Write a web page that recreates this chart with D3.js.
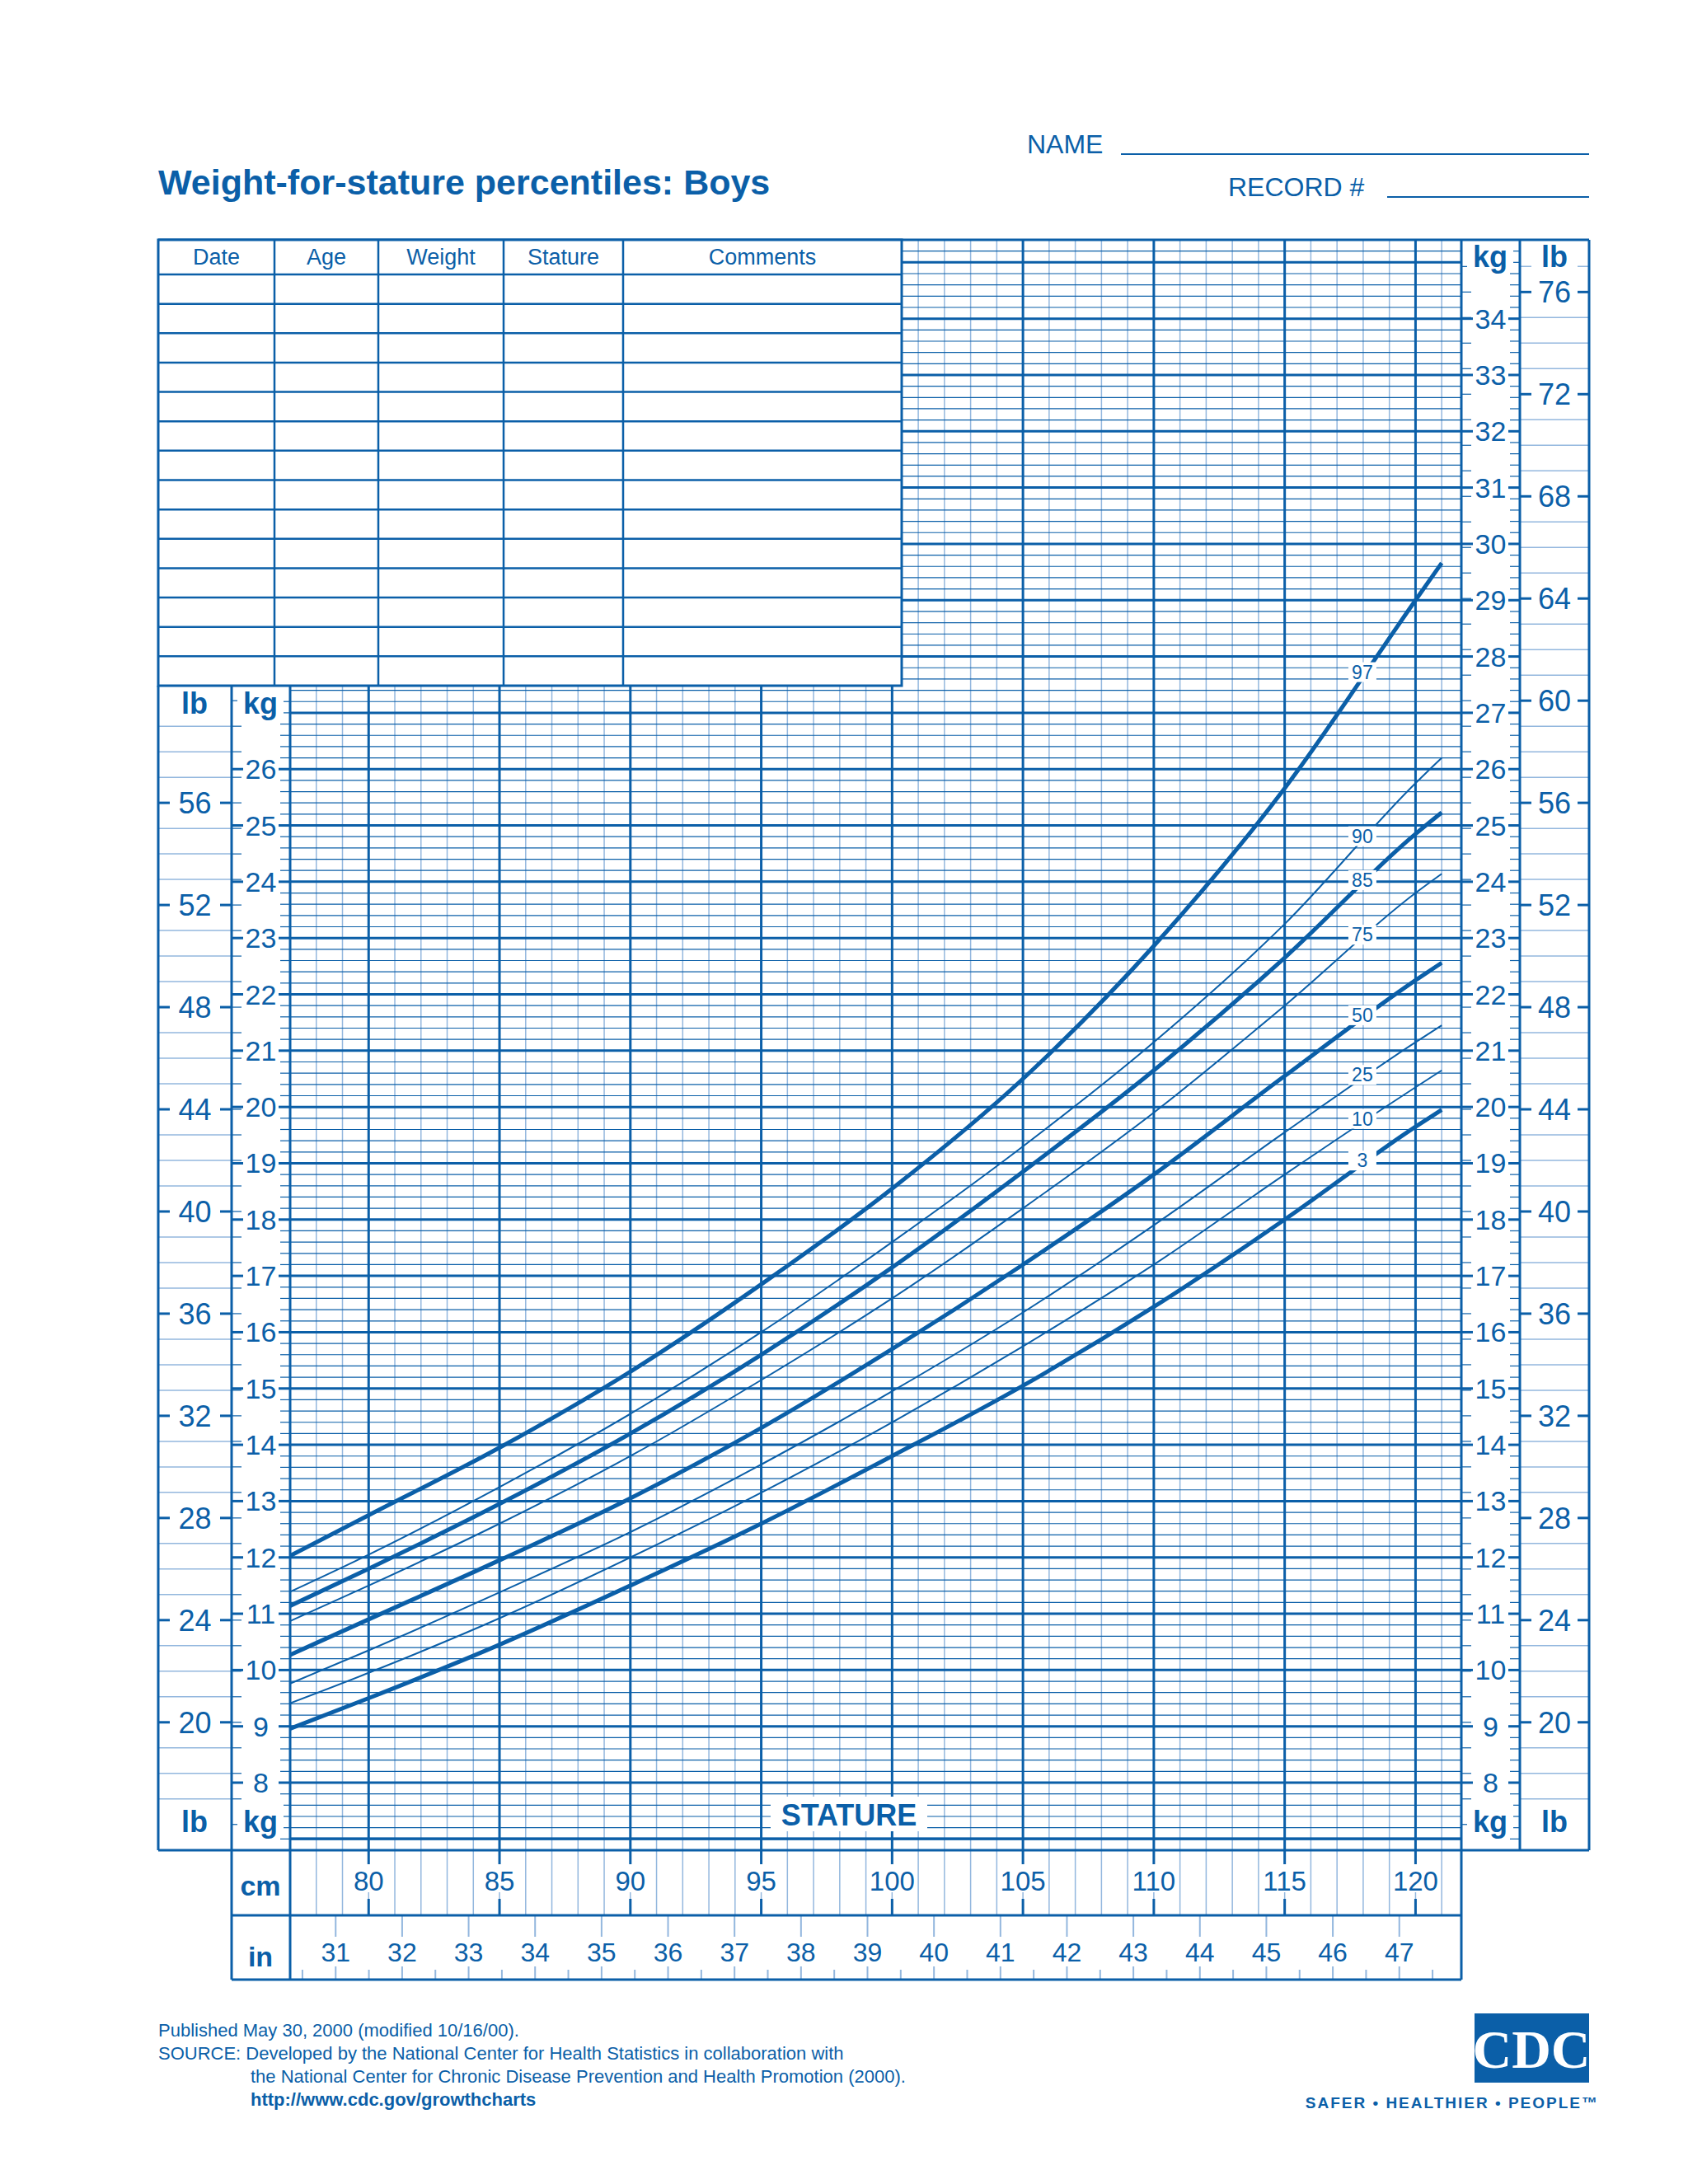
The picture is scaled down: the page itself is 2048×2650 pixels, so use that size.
<!DOCTYPE html>
<html>
<head>
<meta charset="utf-8">
<script src="https://cdn.jsdelivr.net/npm/d3@7"></script>
<style>
  body { margin: 0; background: #fff; }
  svg { font-family: "Liberation Sans", Arial, sans-serif; }
</style>
</head>
<body>
<svg id="chart" width="2048" height="2650"></svg>
<script>
// stature points (cm) and weight percentiles (kg)
const stature = [77, 80, 85, 90, 95, 100, 105, 110, 115, 120, 121];
const p3  = [8.96, 9.5, 10.45, 11.5, 12.6, 13.8, 15.05, 16.45, 18.0, 19.65, 19.95];
const p10 = [9.41, 9.95, 10.92, 12.0, 13.15, 14.4, 15.75, 17.2, 18.8, 20.35, 20.65];
const p25 = [9.76, 10.35, 11.38, 12.45, 13.65, 14.95, 16.35, 17.9, 19.55, 21.15, 21.45];
const p50 = [10.27, 10.9, 11.95, 13.05, 14.3, 15.7, 17.2, 18.8, 20.55, 22.25, 22.56];
const p75 = [10.87, 11.5, 12.6, 13.8, 15.15, 16.6, 18.2, 19.9, 21.8, 23.8, 24.14];
const p85 = [11.14, 11.8, 12.95, 14.2, 15.6, 17.15, 18.85, 20.65, 22.65, 24.85, 25.23];
const p90 = [11.39, 12.05, 13.25, 14.55, 16.0, 17.6, 19.3, 21.15, 23.25, 25.75, 26.2];
const p97 = [12.03, 12.75, 13.95, 15.3, 16.85, 18.55, 20.5, 22.86, 25.66, 29.0, 29.66];
const series = [
  { name: '3', values: p3, thick: true },
  { name: '10', values: p10, thick: false },
  { name: '25', values: p25, thick: false },
  { name: '50', values: p50, thick: true },
  { name: '75', values: p75, thick: false },
  { name: '85', values: p85, thick: true },
  { name: '90', values: p90, thick: false },
  { name: '97', values: p97, thick: true }
];
const tableCols = ['Date', 'Age', 'Weight', 'Stature', 'Comments'];
const cmTicks = [80, 85, 90, 95, 100, 105, 110, 115, 120];
const inTicks = d3.range(31, 48);
const kgLeft = d3.range(8, 27);
const kgRight = d3.range(8, 35);
const lbLeft = d3.range(20, 57, 4);
const lbRight = d3.range(20, 77, 4);

const C = '#0b5fa8', LIGHT = '#93b7de';
const svg = d3.select('#chart');
const x = d3.scaleLinear().domain([77, 121.75]).range([352, 1773]);
const y = d3.scaleLinear().domain([6.8, 35.4]).range([2245, 291]);
const KG_PER_LB = 0.45359237;
const topY = 291, botY = 2245, leftX = 352, rightX = 1773;

// titles
svg.append('text').attr('x', 192).attr('y', 236).attr('fill', C)
  .attr('font-size', 43).attr('font-weight', 'bold').text('Weight-for-stature percentiles: Boys');
svg.append('text').attr('x', 1246).attr('y', 186).attr('fill', C).attr('font-size', 32).text('NAME');
svg.append('line').attr('x1', 1360).attr('x2', 1928).attr('y1', 187).attr('y2', 187).attr('stroke', C).attr('stroke-width', 2);
svg.append('text').attr('x', 1490).attr('y', 238).attr('fill', C).attr('font-size', 32).text('RECORD #');
svg.append('line').attr('x1', 1683).attr('x2', 1928).attr('y1', 239).attr('y2', 239).attr('stroke', C).attr('stroke-width', 2);

// grid
const g = svg.append('g');
g.selectAll('.vmin').data(d3.range(78, 122)).join('line')
  .attr('x1', d => x(d)).attr('x2', d => x(d)).attr('y1', topY).attr('y2', 2324)
  .attr('stroke', LIGHT).attr('stroke-width', 1.5);
g.selectAll('.hmin').data(d3.range(34, 177).map(i => i / 5)).join('line')
  .attr('x1', leftX).attr('x2', rightX).attr('y1', d => y(d)).attr('y2', d => y(d))
  .attr('stroke', C).attr('stroke-width', 1.2);
g.selectAll('.hmaj').data(d3.range(7, 36)).join('line')
  .attr('x1', leftX).attr('x2', rightX).attr('y1', d => y(d)).attr('y2', d => y(d))
  .attr('stroke', C).attr('stroke-width', 3);
g.selectAll('.vmaj').data(cmTicks).join('line')
  .attr('x1', d => x(d)).attr('x2', d => x(d)).attr('y1', topY).attr('y2', botY)
  .attr('stroke', C).attr('stroke-width', 3);

// left / right axis columns
function lbLines(x1, x2, maxLb) {
  g.selectAll(null).data(d3.range(15, maxLb + 1)).join('line')
    .attr('x1', x1).attr('x2', x2)
    .attr('y1', d => y(d * KG_PER_LB)).attr('y2', d => y(d * KG_PER_LB))
    .attr('stroke', LIGHT).attr('stroke-width', 1.5)
    .attr('display', d => (d * KG_PER_LB < 6.85 || d * KG_PER_LB > 35.3 || d % 4 === 0) ? 'none' : null);
}
lbLines(192, 281, 59);
lbLines(1844, 1928, 78);

function kgColumn(x1, x2, vals) {
  const col = svg.append('g');
  col.selectAll('.mt').data(d3.range(34, 177).map(i => i / 5).filter(v => (y(v) <= botY && y(v) >= 840) || x1 > 1000)).join('line')
    .attr('x1', x2 - 12).attr('x2', x2).attr('y1', d => y(d)).attr('y2', d => y(d))
    .attr('stroke', C).attr('stroke-width', 1.2);
  col.selectAll('.lt').data(d3.range(15, 78).map(v => v * KG_PER_LB).filter(v => v > 6.9 && v < 35.3 && (y(v) > 840 || x1 > 1000))).join('line')
    .attr('x1', x1).attr('x2', x1 + 12).attr('y1', d => y(d)).attr('y2', d => y(d))
    .attr('stroke', C).attr('stroke-width', 1.2);
  col.selectAll('.mj').data(vals).join('g').each(function (d) {
    const s = d3.select(this);
    s.append('line').attr('x1', x1).attr('x2', x1 + 14).attr('y1', y(d)).attr('y2', y(d)).attr('stroke', C).attr('stroke-width', 3);
    s.append('line').attr('x1', x2 - 14).attr('x2', x2).attr('y1', y(d)).attr('y2', y(d)).attr('stroke', C).attr('stroke-width', 3);
    s.append('text').attr('x', (x1 + x2) / 2).attr('y', y(d) + 12).attr('text-anchor', 'middle')
      .attr('fill', C).attr('font-size', 34).text(d);
  });
}
kgColumn(281, 352, kgLeft);
kgColumn(1773, 1844, kgRight);

function lbColumn(x1, x2, vals) {
  const col = svg.append('g');
  col.selectAll('g').data(vals).join('g').each(function (d) {
    const yy = y(d * KG_PER_LB);
    const s = d3.select(this);
    s.append('line').attr('x1', x1).attr('x2', x1 + 14).attr('y1', yy).attr('y2', yy).attr('stroke', C).attr('stroke-width', 3);
    s.append('line').attr('x1', x2 - 14).attr('x2', x2).attr('y1', yy).attr('y2', yy).attr('stroke', C).attr('stroke-width', 3);
    s.append('text').attr('x', (x1 + x2) / 2).attr('y', yy + 13).attr('text-anchor', 'middle')
      .attr('fill', C).attr('font-size', 36).text(d);
  });
}
lbColumn(192, 281, lbLeft);
lbColumn(1844, 1928, lbRight);

// unit labels
function unit(t, cx, cy, size) {
  svg.append('rect').attr('x', cx - 28).attr('y', cy - 24).attr('width', 56).attr('height', 36).attr('fill', '#fff');
  svg.append('text').attr('x', cx).attr('y', cy + 10).attr('text-anchor', 'middle').attr('fill', C)
    .attr('font-size', size || 36).attr('font-weight', 'bold').text(t);
}
unit('lb', 236, 856); unit('kg', 316, 856);
unit('lb', 236, 2213); unit('kg', 316, 2213);
unit('kg', 1808, 314); unit('lb', 1886, 314);
unit('kg', 1808, 2213); unit('lb', 1886, 2213);

// bottom axes
const ax = svg.append('g');
ax.selectAll('.cmw').data(cmTicks).join('rect')
  .attr('x', d => x(d) - 30).attr('y', 2260).attr('width', 60).attr('height', 36).attr('fill', '#fff');
ax.selectAll('.cmt').data(cmTicks).join('line')
  .attr('x1', d => x(d)).attr('x2', d => x(d)).attr('y1', 2245).attr('y2', 2262).attr('stroke', C).attr('stroke-width', 3);
ax.selectAll('.cmb').data(cmTicks).join('line')
  .attr('x1', d => x(d)).attr('x2', d => x(d)).attr('y1', 2304).attr('y2', 2324).attr('stroke', C).attr('stroke-width', 3);
ax.selectAll('.cml').data(cmTicks).join('text')
  .attr('x', d => x(d)).attr('y', 2294).attr('text-anchor', 'middle').attr('fill', C).attr('font-size', 33).text(d => d);
ax.selectAll('.inl').data(inTicks).join('text')
  .attr('x', d => x(d * 2.54)).attr('y', 2380).attr('text-anchor', 'middle').attr('fill', C).attr('font-size', 32).text(d => d);
ax.selectAll('.int').data(inTicks).join('line')
  .attr('x1', d => x(d * 2.54)).attr('x2', d => x(d * 2.54)).attr('y1', 2324).attr('y2', 2350).attr('stroke', LIGHT).attr('stroke-width', 2);
ax.selectAll('.inb').data(d3.range(30.5, 48, 0.5)).join('line')
  .attr('x1', d => x(d * 2.54)).attr('x2', d => x(d * 2.54)).attr('y1', d => d % 1 ? 2390 : 2386).attr('y2', 2402)
  .attr('stroke', LIGHT).attr('stroke-width', 2);
unit('cm', 316, 2290, 34);
unit('in', 316, 2376, 34);

// frame lines
const F = (x1, y1, x2, y2, w) => svg.append('line').attr('x1', x1).attr('y1', y1).attr('x2', x2).attr('y2', y2)
  .attr('stroke', C).attr('stroke-width', w || 3);
F(192, 832, 192, 2245); F(192, 2245, 1928, 2245); F(281, 832, 281, 2402);
F(352, 832, 352, 2402); F(1773, 291, 1773, 2402); F(1844, 291, 1844, 2245);
F(1928, 291, 1928, 2245); F(192, 291, 1928, 291); F(281, 2324, 1773, 2324); F(281, 2402, 1773, 2402);
F(352, botY - 14, 1773, botY - 14, 3);

// record table
const tx = [192, 333, 459, 611, 756, 1094];
svg.append('rect').attr('x', 192).attr('y', 291).attr('width', 902).attr('height', 541)
  .attr('fill', '#fff').attr('stroke', C).attr('stroke-width', 3);
const rowY = [291, 333].concat(d3.range(1, 15).map(i => 333 + i * (832 - 333) / 14));
svg.selectAll('.trow').data(rowY.slice(1, -1)).join('line')
  .attr('x1', 192).attr('x2', 1094).attr('y1', d => d).attr('y2', d => d).attr('stroke', C).attr('stroke-width', 2.5);
svg.selectAll('.tcol').data(tx.slice(1, -1)).join('line')
  .attr('x1', d => d).attr('x2', d => d).attr('y1', 291).attr('y2', 832).attr('stroke', C).attr('stroke-width', 2.5);
svg.selectAll('.thead').data(tableCols).join('text')
  .attr('x', (d, i) => (tx[i] + tx[i + 1]) / 2).attr('y', 321).attr('text-anchor', 'middle')
  .attr('fill', C).attr('font-size', 27).text(d => d);

// curves
const line = d3.line().x((d, i) => x(stature[i])).y(d => y(d)).curve(d3.curveMonotoneX);
const cg = svg.append('g');
cg.selectAll('path').data(series).join('path')
  .attr('d', d => line(d.values)).attr('fill', 'none').attr('stroke', C)
  .attr('stroke-width', d => d.thick ? 5 : 2);
const labelAt = 118;
function valAt(vals, s) {
  const i = d3.bisectLeft(stature, s);
  const t = (s - stature[i - 1]) / (stature[i] - stature[i - 1]);
  return vals[i - 1] + t * (vals[i] - vals[i - 1]);
}
cg.selectAll('g').data(series).join('g').each(function (d) {
  const cx = x(labelAt) - 1, cy = y(valAt(d.values, labelAt)) - 4;
  const s = d3.select(this);
  s.append('rect').attr('x', cx - 17).attr('y', cy - 12).attr('width', 34).attr('height', 24).attr('fill', '#fff');
  s.append('text').attr('x', cx).attr('y', cy + 8).attr('text-anchor', 'middle').attr('fill', C)
    .attr('font-size', 23).text(d.name);
});

// STATURE label
svg.append('rect').attr('x', 935).attr('y', 2180).attr('width', 190).attr('height', 42).attr('fill', '#fff');
svg.append('text').attr('x', 1030).attr('y', 2215).attr('text-anchor', 'middle').attr('fill', C)
  .attr('font-size', 36).attr('font-weight', 'bold').text('STATURE');

// footer
const foot = [
  [192, 2471, 'Published May 30, 2000 (modified 10/16/00).', 'normal'],
  [192, 2499, 'SOURCE: Developed by the National Center for Health Statistics in collaboration with', 'normal'],
  [304, 2527, 'the National Center for Chronic Disease Prevention and Health Promotion (2000).', 'normal'],
  [304, 2555, 'http://www.cdc.gov/growthcharts', 'bold']
];
svg.selectAll('.foot').data(foot).join('text')
  .attr('x', d => d[0]).attr('y', d => d[1]).attr('fill', C).attr('font-size', 22)
  .attr('font-weight', d => d[3]).text(d => d[2]);
svg.append('rect').attr('x', 1789).attr('y', 2443).attr('width', 139).attr('height', 84).attr('fill', C);
svg.append('text').attr('x', 1858).attr('y', 2509).attr('text-anchor', 'middle').attr('fill', '#fff')
  .attr('font-size', 66).attr('font-family', 'Liberation Serif, serif').attr('font-weight', 'bold').text('CDC');
svg.append('text').attr('x', 1940).attr('y', 2558).attr('text-anchor', 'end').attr('fill', C)
  .attr('font-size', 19).attr('font-weight', 'bold').attr('letter-spacing', 2).text('SAFER • HEALTHIER • PEOPLE™');
</script>
</body>
</html>
